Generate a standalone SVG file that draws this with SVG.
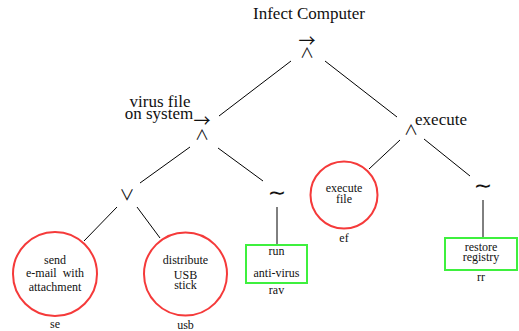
<svg xmlns="http://www.w3.org/2000/svg" width="519" height="331" viewBox="0 0 519 331">
<style>
.t{font-family:"Liberation Serif","Times New Roman",serif;fill:#111;text-anchor:middle}
.big{font-size:17px}
.sm{font-size:12px;white-space:pre}
.op{font-family:"Noto Sans CJK JP","DejaVu Sans",sans-serif;fill:#111;text-anchor:middle;font-weight:400}
.ar{font-family:"Noto Sans CJK JP","DejaVu Sans",sans-serif;fill:#111;text-anchor:middle;font-size:17px;font-weight:400}
.c{fill:none;stroke:#f53a3a;stroke-width:2}
.b{fill:none;stroke:#3ef03e;stroke-width:2}
.e{stroke:#000;stroke-width:1;fill:none}
</style>
<rect width="519" height="331" fill="#fff"/>
<g id="connectors">
<line class="e" x1="291" y1="61" x2="219" y2="116"/>
<line class="e" x1="325" y1="61" x2="397" y2="117"/>
<line class="e" x1="190" y1="147" x2="140" y2="183"/>
<line class="e" x1="218" y1="148" x2="263" y2="181"/>
<line class="e" x1="117" y1="207" x2="84" y2="241"/>
<line class="e" x1="137" y1="207" x2="160" y2="238"/>
<line class="e" x1="277" y1="207" x2="277" y2="244"/>
<line class="e" x1="400" y1="140" x2="369" y2="169"/>
<line class="e" x1="424" y1="139" x2="470" y2="176"/>
<line class="e" x1="483" y1="200" x2="483" y2="237"/>
</g>
<g id="root">
<text class="t big" x="309" y="19">Infect Computer</text>
<text class="ar" x="307" y="47">→</text>
<text class="op" x="307" y="58" font-size="14">∧</text>
</g>
<g id="virus-file">
<text class="t big" x="160" y="107">virus file</text>
<text class="t big" x="159" y="119">on system</text>
<text class="ar" x="202" y="127">→</text>
<text class="op" x="202" y="140" font-size="14">∧</text>
</g>
<g id="or-node">
<text class="op" x="127" y="200" font-size="15">∨</text>
</g>
<g id="se">
<circle class="c" cx="55" cy="274" r="42"/>
<text class="t sm" x="55" y="264">send</text>
<text class="t sm" x="55" y="277">e-mail  with</text>
<text class="t sm" x="55" y="291">attachment</text>
<text class="t sm" x="55" y="328">se</text>
</g>
<g id="usb">
<circle class="c" cx="185.5" cy="274" r="41.5"/>
<text class="t sm" x="185.5" y="264">distribute</text>
<text class="t sm" x="185.5" y="279">USB</text>
<text class="t sm" x="185.5" y="289">stick</text>
<text class="t sm" x="185.5" y="329">usb</text>
</g>
<g id="not-rav">
<text class="op" x="277" y="200" font-size="22">∼</text>
</g>
<g id="rav">
<rect class="b" x="246" y="245" width="61" height="38"/>
<text class="t sm" x="276.5" y="255">run</text>
<text class="t sm" x="276.5" y="277">anti-virus</text>
<text class="t sm" x="276.5" y="294">rav</text>
</g>
<g id="execute">
<text class="op" x="411" y="135" font-size="14">∧</text>
<text class="t big" x="441" y="125">execute</text>
</g>
<g id="ef">
<circle class="c" cx="344" cy="195" r="33.5"/>
<text class="t sm" x="344" y="192">execute</text>
<text class="t sm" x="344" y="203">file</text>
<text class="t sm" x="344" y="242">ef</text>
</g>
<g id="not-rr">
<text class="op" x="483" y="193" font-size="22">∼</text>
</g>
<g id="rr">
<rect class="b" x="445" y="238" width="72" height="32"/>
<text class="t sm" x="481" y="251">restore</text>
<text class="t sm" x="481" y="261">registry</text>
<text class="t sm" x="481" y="281">rr</text>
</g>
</svg>
